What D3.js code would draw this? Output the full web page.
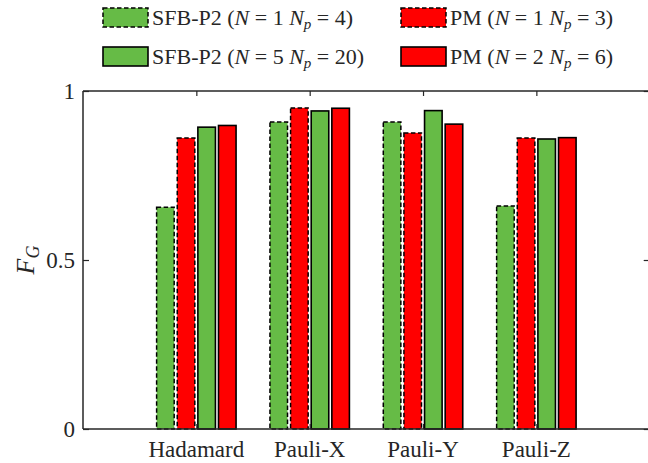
<!DOCTYPE html>
<html>
<head>
<meta charset="utf-8">
<script src="https://cdn.jsdelivr.net/npm/d3@7"></script>
</head>
<body style="margin:0">
<svg id="chart" width="648" height="463" font-family="Times New Roman"></svg>
<script>
// gate names along the x axis
var gates = ["Hadamard", "Pauli-X", "Pauli-Y", "Pauli-Z"];

// F_G per gate, one array per series
var sfbSmall = [0.656, 0.908, 0.908, 0.660];  // SFB-P2 N=1 Np=4
var pmSmall  = [0.861, 0.950, 0.876, 0.861];  // PM N=1 Np=3
var sfbBig   = [0.893, 0.941, 0.942, 0.858];  // SFB-P2 N=5 Np=20
var pmBig    = [0.898, 0.949, 0.902, 0.862];  // PM N=2 Np=6

var yTicks = [0, 0.5, 1];
var yTickLabels = ["0", "0.5", "1"];

var green = "#66bb46", red = "#ff0000", axisCol = "#262626";
var fontFam = "Times New Roman";

var series = [
  {vals: sfbSmall, color: green, dashed: true,  n: "1", np: "4",  name: "SFB-P2"},
  {vals: pmSmall,  color: red,   dashed: true,  n: "1", np: "3",  name: "PM"},
  {vals: sfbBig,   color: green, dashed: false, n: "5", np: "20", name: "SFB-P2"},
  {vals: pmBig,    color: red,   dashed: false, n: "2", np: "6",  name: "PM"}
];

var svg = d3.select("#chart");
var pLeft = 83, pRight = 649.7, pTop = 91, pBottom = 429;

var x = d3.scaleLinear().domain([0, 5]).range([pLeft, pRight]);
var y = d3.scaleLinear().domain([0, 1]).range([pBottom, pTop]);

var barW = 0.155, step = 0.182;

// bars
series.forEach(function(s, si) {
  var off = (si - 1.5) * step;
  svg.append("g").selectAll("rect").data(s.vals).enter().append("rect")
    .attr("x", function(d, i) { return x(i + 1 + off - barW / 2); })
    .attr("width", x(barW) - x(0))
    .attr("y", function(d) { return y(d); })
    .attr("height", function(d) { return y(0) - y(d); })
    .attr("fill", s.color)
    .attr("stroke", "#000")
    .attr("stroke-width", s.dashed ? 1.5 : 1.6)
    .attr("stroke-dasharray", s.dashed ? "4.5,2.5" : null);
});

// axis box
var box = svg.append("g").attr("fill", "none").attr("stroke", axisCol).attr("stroke-width", 1.5);
box.append("line").attr("x1", pLeft).attr("x2", pLeft).attr("y1", pTop).attr("y2", pBottom);
box.append("line").attr("x1", pLeft).attr("x2", 648).attr("y1", pTop).attr("y2", pTop);
box.append("line").attr("x1", pLeft).attr("x2", 648).attr("y1", pBottom).attr("y2", pBottom);

// left axis, inward ticks
var yAxis = svg.append("g").attr("transform", "translate(" + pLeft + ",0)")
  .call(d3.axisRight(y).tickValues(yTicks).tickSize(6).tickFormat(""));
yAxis.select(".domain").remove();
yAxis.selectAll("line").attr("stroke", axisCol).attr("stroke-width", 1.2);

// right axis ticks (axis itself off-image)
var yAxisR = svg.append("g").attr("transform", "translate(" + pRight + ",0)")
  .call(d3.axisLeft(y).tickValues(yTicks).tickSize(6).tickFormat(""));
yAxisR.select(".domain").remove();
yAxisR.selectAll("line").attr("stroke", axisCol).attr("stroke-width", 1.2);

// top and bottom ticks at category positions
var xTop = svg.append("g").attr("transform", "translate(0," + pTop + ")")
  .call(d3.axisBottom(x).tickValues([1, 2, 3, 4]).tickSize(5).tickFormat(""));
xTop.select(".domain").remove();
xTop.selectAll("line").attr("stroke", axisCol).attr("stroke-width", 1.2);
var xBot = svg.append("g").attr("transform", "translate(0," + pBottom + ")")
  .call(d3.axisTop(x).tickValues([1, 2, 3, 4]).tickSize(5).tickFormat(""));
xBot.select(".domain").remove();
xBot.selectAll("line").attr("stroke", axisCol).attr("stroke-width", 1.2);

// y tick labels
svg.selectAll("text.ytl").data(yTicks).enter().append("text")
  .attr("class", "ytl")
  .attr("x", pLeft - 8).attr("y", function(d) { return y(d); })
  .attr("dy", "0.33em").attr("text-anchor", "end")
  .attr("font-family", fontFam).attr("font-size", 23).attr("fill", axisCol)
  .text(function(d, i) { return yTickLabels[i]; });

// x labels
svg.selectAll("text.xl").data(gates).enter().append("text")
  .attr("class", "xl")
  .attr("x", function(d, i) { return x(i + 1); })
  .attr("y", 457).attr("text-anchor", "middle")
  .attr("font-family", fontFam).attr("font-size", 23).attr("fill", axisCol)
  .text(function(d) { return d; });

// y label F_G
var yl = svg.append("text").attr("transform", "translate(34,260) rotate(-90)")
  .attr("text-anchor", "middle")
  .attr("font-family", fontFam).attr("font-size", 26).attr("fill", axisCol);
yl.append("tspan").attr("font-style", "italic").text("F");
yl.append("tspan").attr("dy", "5").attr("font-style", "italic").attr("font-size", 18).text("G");

// legend
var legPos = [[103, 8], [401, 8], [103, 47], [401, 47]];
series.forEach(function(s, si) {
  var p = legPos[si];
  svg.append("rect").attr("x", p[0]).attr("y", p[1]).attr("width", 45).attr("height", 19)
    .attr("fill", s.color).attr("stroke", "#000")
    .attr("stroke-width", s.dashed ? 1.5 : 1.6)
    .attr("stroke-dasharray", s.dashed ? "4.5,2.5" : null);
  var t = svg.append("text").attr("x", p[0] + 49).attr("y", p[1] + 17)
    .attr("font-family", fontFam).attr("font-size", 22).attr("fill", axisCol);
  t.append("tspan").text(s.name + " (");
  t.append("tspan").attr("font-style", "italic").text("N");
  t.append("tspan").text(" = " + s.n + " ");
  t.append("tspan").attr("font-style", "italic").text("N");
  t.append("tspan").attr("dy", "4").attr("font-style", "italic").attr("font-size", 15).text("p");
  t.append("tspan").attr("dy", "-4").text(" = " + s.np + ")");
});
</script>
</body>
</html>
